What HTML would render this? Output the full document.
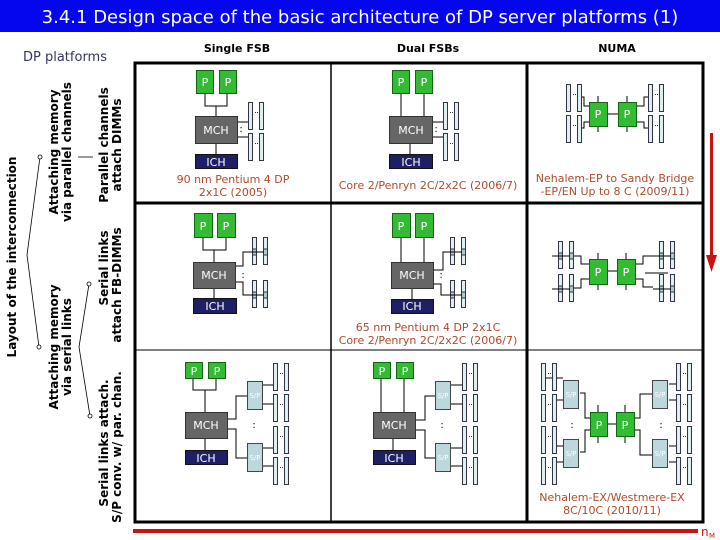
<!DOCTYPE html>
<html><head><meta charset="utf-8"><style>
html,body{margin:0;padding:0;background:#fff;}
svg{display:block;}
text{font-family:"DejaVu Sans","Liberation Sans",sans-serif;}
</style></head><body>
<svg width="720" height="540" viewBox="0 0 720 540" xmlns="http://www.w3.org/2000/svg">
<defs>
<g id="dp">
<rect x="0.5" y="0.5" width="4" height="27" fill="#dfeeee" stroke="#334" stroke-width="1"/>
<rect x="11.5" y="0.5" width="4" height="27" fill="#dfeeee" stroke="#334" stroke-width="1"/>
<rect x="7" y="10" width="1" height="1" fill="#333"/><rect x="9" y="10" width="1" height="1" fill="#333"/>
</g>
<g id="dpf">
<rect x="0.5" y="0.5" width="4" height="27" fill="#dfeeee" stroke="#334" stroke-width="1"/>
<rect x="11.5" y="0.5" width="4" height="27" fill="#dfeeee" stroke="#334" stroke-width="1"/>
<rect x="0.5" y="12" width="4" height="6" fill="#a9cccc" stroke="#334"/>
<rect x="11.5" y="12" width="4" height="6" fill="#a9cccc" stroke="#334"/>
<line x1="-6" y1="15" x2="12" y2="15" stroke="#000"/>
</g>
<g id="sp"><rect x="0.5" y="0.5" width="15" height="28" fill="#bcd8dc" stroke="#444"/><text x="8" y="17" font-size="7" fill="#fff" text-anchor="middle">S/P</text></g>
</defs>

<!-- title -->
<rect x="0" y="0" width="720" height="32" fill="#0505ee"/>
<text x="360" y="23" font-size="18" fill="#fff" text-anchor="middle">3.4.1 Design space of the basic architecture of DP server platforms (1)</text>

<text x="23" y="61" font-size="13" fill="#333366">DP platforms</text>
<text x="237" y="52" font-size="11" font-weight="bold" text-anchor="middle">Single FSB</text>
<text x="428" y="52" font-size="11" font-weight="bold" text-anchor="middle">Dual FSBs</text>
<text x="617" y="52" font-size="11" font-weight="bold" text-anchor="middle">NUMA</text>

<!-- grid -->
<g stroke="#000" fill="none">
<rect x="135" y="63" width="568" height="459" stroke-width="3"/>
<line x1="331" y1="63" x2="331" y2="522" stroke-width="1.5"/>
<line x1="527" y1="63" x2="527" y2="522" stroke-width="3"/>
<line x1="135" y1="203" x2="703" y2="203" stroke-width="3"/>
<line x1="135" y1="350" x2="703" y2="350" stroke-width="1"/>
</g>

<!-- red arrows -->
<rect x="710" y="133" width="3" height="127" fill="#cc1111"/>
<polygon points="706,255 717,255 711.5,272" fill="#cc1111"/>
<rect x="133" y="529" width="565" height="4" fill="#cc1111"/>
<text x="701" y="536" font-size="12" fill="#cc1111">n</text><text x="709" y="538" font-size="7" fill="#cc1111">M</text>

<!-- left labels -->
<g font-weight="bold" font-size="12" fill="#000" text-anchor="middle">
<text transform="translate(16,257) rotate(-90)">Layout of the interconnection</text>
<text transform="translate(58,152) rotate(-90)">Attaching memory</text>
<text transform="translate(71,152) rotate(-90)">via parallel channels</text>
<text transform="translate(58,347) rotate(-90)">Attaching memory</text>
<text transform="translate(71,347) rotate(-90)">via serial links</text>
<text transform="translate(108,145) rotate(-90)">Parallel channels</text>
<text transform="translate(121,145) rotate(-90)">attach DIMMs</text>
<text transform="translate(108,268) rotate(-90)">Serial links</text>
<text transform="translate(121,285) rotate(-90)">attach FB-DIMMs</text>
<text transform="translate(108,443) rotate(-90)">Serial links attach.</text>
<text transform="translate(121,447) rotate(-90)">S/P conv. w/ par. chan.</text>
</g>
<g stroke="#000" fill="#fff" stroke-width="0.8">
<polyline points="40,157 27,255 39,347" fill="none"/>
<circle cx="40" cy="157" r="2"/><circle cx="39" cy="347" r="2"/>
<polyline points="89,284 79,347 90,416" fill="none"/>
<circle cx="89" cy="284" r="2"/><circle cx="90" cy="416" r="2"/>
<line x1="78" y1="157" x2="93" y2="157"/>
</g>

<g font-size="11" fill="#b04a2a" text-anchor="middle">
<text x="233" y="183">90 nm Pentium 4 DP</text>
<text x="233" y="196">2x1C (2005)</text>
<text x="428" y="189">Core 2/Penryn 2C/2x2C (2006/7)</text>
<text x="428" y="331">65 nm Pentium 4 DP 2x1C</text>
<text x="428" y="344">Core 2/Penryn 2C/2x2C (2006/7)</text>
<text x="615" y="182">Nehalem-EP to Sandy Bridge</text>
<text x="615" y="195">-EP/EN Up to 8 C (2009/11)</text>
<text x="612" y="501">Nehalem-EX/Westmere-EX</text>
<text x="612" y="514">8C/10C (2010/11)</text>
</g>

<!-- generic styles -->
<g stroke="#000" stroke-width="1" fill="none">
<!-- row1 single -->
<polyline points="205,93 205,106 227,106 227,93"/><line x1="216" y1="106" x2="216" y2="116"/><line x1="216" y1="143" x2="216" y2="154"/>
<line x1="237" y1="122" x2="248" y2="122"/><line x1="237" y1="137" x2="248" y2="137"/>
<!-- row1 dual -->
<line x1="401" y1="93" x2="401" y2="116"/><line x1="424" y1="93" x2="424" y2="116"/><line x1="410" y1="143" x2="410" y2="154"/>
<line x1="432" y1="122" x2="443" y2="122"/><line x1="432" y1="137" x2="443" y2="137"/>
<!-- row2 single -->
<polyline points="203,237 203,250 226,250 226,237"/><line x1="214" y1="250" x2="214" y2="262"/><line x1="214" y1="288" x2="214" y2="298"/>
<polyline points="235,266 243,266 243,252 252,252"/><polyline points="235,282 243,282 243,295 252,295"/>
<!-- row2 dual -->
<line x1="401" y1="237" x2="401" y2="262"/><line x1="424" y1="237" x2="424" y2="262"/><line x1="412" y1="288" x2="412" y2="299"/>
<polyline points="433,270 443,270 443,252 450,252"/><polyline points="433,284 441,284 441,295 450,295"/>
<!-- row3 single -->
<polyline points="193,378 193,390 216,390 216,378"/><line x1="205" y1="390" x2="205" y2="412"/><line x1="205" y1="438" x2="205" y2="450"/>
<polyline points="227,419 236,419 236,396 247,396"/><polyline points="227,429 236,429 236,458 247,458"/>
<line x1="262" y1="385" x2="273" y2="385"/><line x1="262" y1="404" x2="273" y2="404"/><line x1="262" y1="448" x2="273" y2="448"/><line x1="262" y1="466" x2="273" y2="466"/>
<!-- row3 dual -->
<line x1="381" y1="378" x2="381" y2="412"/><line x1="404" y1="378" x2="404" y2="412"/><line x1="393" y1="438" x2="393" y2="450"/>
<polyline points="415,420 425,420 425,396 435,396"/><polyline points="415,430 425,430 425,458 435,458"/>
<line x1="450" y1="385" x2="462" y2="385"/><line x1="450" y1="404" x2="462" y2="404"/><line x1="450" y1="448" x2="462" y2="448"/><line x1="450" y1="466" x2="462" y2="466"/>
<!-- numa row1 -->
<line x1="607" y1="114" x2="618" y2="114"/>
<line x1="598" y1="96" x2="598" y2="102"/><line x1="598" y1="126" x2="598" y2="132"/><line x1="627" y1="96" x2="627" y2="102"/><line x1="627" y1="126" x2="627" y2="132"/>
<polyline points="581,97 584,97 584,106 589,106"/><polyline points="581,128 584,128 584,122 589,122"/>
<polyline points="648,97 644,97 644,106 636,106"/><polyline points="648,128 644,128 644,122 636,122"/>
<!-- numa row2 -->
<line x1="607" y1="271" x2="617" y2="271"/>
<line x1="598" y1="253" x2="598" y2="259"/><line x1="598" y1="284" x2="598" y2="290"/><line x1="626" y1="253" x2="626" y2="259"/><line x1="626" y1="284" x2="626" y2="290"/>
<polyline points="574,256 581,256 581,264 589,264"/><polyline points="574,288 581,288 581,279 589,279"/>
<polyline points="635,264 643,264 643,256 653,256"/><polyline points="635,279 643,279 643,287 653,287"/><line x1="645" y1="273" x2="668" y2="273"/>
<!-- numa row3 -->
<line x1="607" y1="424" x2="616" y2="424"/>
<line x1="598" y1="405" x2="598" y2="412"/><line x1="598" y1="436" x2="598" y2="443"/><line x1="625" y1="405" x2="625" y2="412"/><line x1="625" y1="436" x2="625" y2="443"/>
<polyline points="580,393 585,393 585,418 590,418"/><polyline points="580,452 585,452 585,430 590,430"/>
<polyline points="634,418 640,418 640,394 652,394"/><polyline points="634,430 640,430 640,455 652,455"/>
<line x1="546" y1="378" x2="563" y2="378"/><line x1="557" y1="400" x2="563" y2="400"/><line x1="557" y1="446" x2="563" y2="446"/><line x1="557" y1="462" x2="563" y2="462"/>
<line x1="669" y1="384" x2="678" y2="384"/><line x1="669" y1="400" x2="678" y2="400"/><line x1="669" y1="446" x2="678" y2="446"/><line x1="669" y1="462" x2="678" y2="462"/>
</g>

<!-- boxes -->
<g font-size="11" text-anchor="middle">
<!-- P boxes -->
<g fill="#33bb33" stroke="#116611">
<rect x="196.5" y="70.5" width="17" height="23"/><rect x="219.5" y="70.5" width="17" height="23"/>
<rect x="392.5" y="70.5" width="17" height="23"/><rect x="415.5" y="70.5" width="17" height="23"/>
<rect x="194.5" y="213.5" width="18" height="24"/><rect x="217.5" y="213.5" width="18" height="24"/>
<rect x="392.5" y="213.5" width="18" height="24"/><rect x="415.5" y="213.5" width="18" height="24"/>
<rect x="185.5" y="362.5" width="17" height="16"/><rect x="208.5" y="362.5" width="17" height="16"/>
<rect x="373.5" y="362.5" width="17" height="16"/><rect x="396.5" y="362.5" width="17" height="16"/>
<rect x="589.5" y="102.5" width="18" height="24"/><rect x="618.5" y="102.5" width="18" height="24"/>
<rect x="589.5" y="259.5" width="18" height="25"/><rect x="617.5" y="259.5" width="18" height="25"/>
<rect x="590.5" y="412.5" width="17" height="24"/><rect x="616.5" y="412.5" width="18" height="24"/>
</g>
<g fill="#fff">
<text x="205" y="86">P</text><text x="228" y="86">P</text>
<text x="401" y="86">P</text><text x="424" y="86">P</text>
<text x="203" y="230">P</text><text x="226" y="230">P</text>
<text x="401" y="230">P</text><text x="424" y="230">P</text>
<text x="194" y="375">P</text><text x="217" y="375">P</text>
<text x="382" y="375">P</text><text x="405" y="375">P</text>
<text x="598" y="118">P</text><text x="627" y="118">P</text>
<text x="598" y="276">P</text><text x="626" y="276">P</text>
<text x="599" y="429">P</text><text x="625" y="429">P</text>
</g>
<!-- MCH -->
<g fill="#666" stroke="#333">
<rect x="195.5" y="116.5" width="42" height="27"/><rect x="389.5" y="116.5" width="43" height="27"/>
<rect x="193.5" y="262.5" width="42" height="26"/><rect x="391.5" y="262.5" width="42" height="26"/>
<rect x="185.5" y="412.5" width="42" height="26"/><rect x="373.5" y="412.5" width="42" height="26"/>
</g>
<g fill="#fff">
<text x="216" y="134">MCH</text><text x="411" y="134">MCH</text>
<text x="214" y="279">MCH</text><text x="412" y="279">MCH</text>
<text x="206" y="429">MCH</text><text x="394" y="429">MCH</text>
</g>
<!-- ICH -->
<g fill="#1f1f66" stroke="#111">
<rect x="195.5" y="154.5" width="42" height="14"/><rect x="389.5" y="154.5" width="43" height="14"/>
<rect x="193.5" y="298.5" width="43" height="15"/><rect x="391.5" y="299.5" width="42" height="14"/>
<rect x="185.5" y="450.5" width="42" height="14"/><rect x="373.5" y="450.5" width="42" height="14"/>
</g>
<g fill="#fff">
<text x="216" y="166">ICH</text><text x="411" y="166">ICH</text>
<text x="215" y="310">ICH</text><text x="412" y="310">ICH</text>
<text x="206" y="462">ICH</text><text x="394" y="462">ICH</text>
</g>
</g>

<!-- DIMMs -->
<use href="#dp" x="248" y="102"/><use href="#dp" x="248" y="133"/>
<use href="#dp" x="443" y="102"/><use href="#dp" x="443" y="133"/>
<use href="#dpf" x="252" y="237"/><use href="#dpf" x="252" y="280"/>
<use href="#dpf" x="450" y="237"/><use href="#dpf" x="450" y="280"/>
<use href="#dp" x="273" y="363"/><use href="#dp" x="273" y="394"/><use href="#dp" x="273" y="426"/><use href="#dp" x="273" y="457"/>
<use href="#dp" x="462" y="363"/><use href="#dp" x="462" y="394"/><use href="#dp" x="462" y="426"/><use href="#dp" x="462" y="457"/>
<use href="#dp" x="566" y="84"/><use href="#dp" x="566" y="115"/>
<use href="#dp" x="648" y="84"/><use href="#dp" x="648" y="115"/>
<use href="#dpf" x="558" y="241"/><use href="#dpf" x="558" y="274"/>
<use href="#dpf" x="659" y="241"/><use href="#dpf" x="659" y="274"/>
<use href="#dp" x="541" y="363"/><use href="#dp" x="541" y="394"/><use href="#dp" x="541" y="426"/><use href="#dp" x="541" y="457"/>
<use href="#dp" x="676" y="363"/><use href="#dp" x="676" y="394"/><use href="#dp" x="676" y="426"/><use href="#dp" x="676" y="457"/>
<!-- S/P -->
<use href="#sp" x="247" y="381"/><use href="#sp" x="247" y="443"/>
<use href="#sp" x="435" y="381"/><use href="#sp" x="435" y="443"/>
<use href="#sp" x="563" y="380"/><use href="#sp" x="563" y="439"/>
<use href="#sp" x="652" y="380"/><use href="#sp" x="652" y="439"/>
<!-- colons -->
<g font-size="10" fill="#000" text-anchor="middle">
<text x="241" y="132">:</text><text x="436" y="132">:</text>
<text x="243" y="278">:</text><text x="441" y="278">:</text>
<text x="254" y="428">:</text><text x="442" y="428">:</text>
<text x="572" y="428">:</text><text x="661" y="428">:</text>
</g>
</svg>
</body></html>
